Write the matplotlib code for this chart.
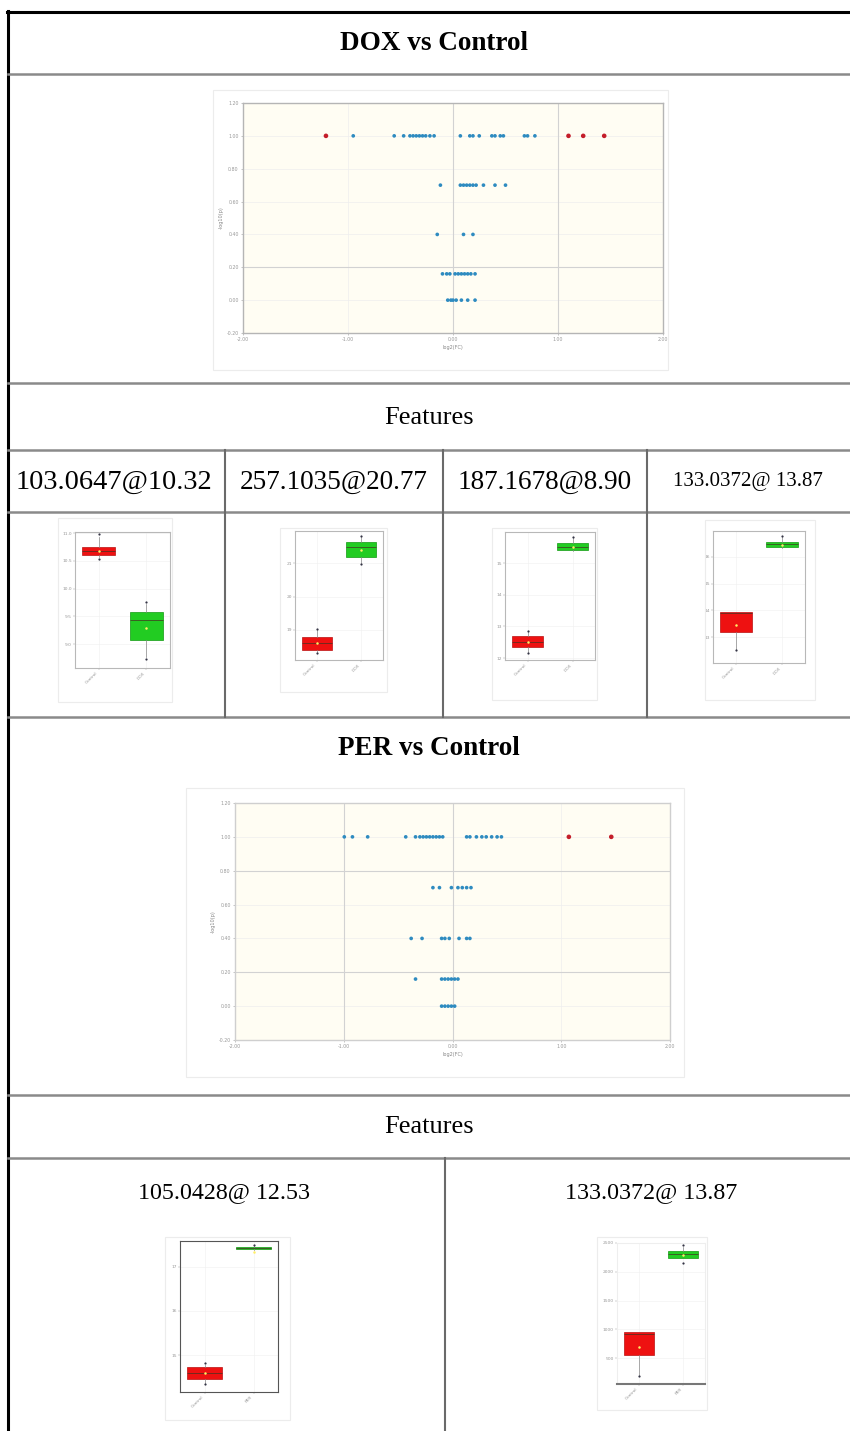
import matplotlib.pyplot as plt
from matplotlib.lines import Line2D
from matplotlib.patches import Rectangle

W, H = 850, 1431

# ---- volcano data, DOX vs Control (log2 FC, -log10 p) ----
dox_fc = [-0.95, -0.56, -0.47, -0.41, -0.38, -0.35, -0.32, -0.29, -0.26, -0.22, -0.18,
          0.07, 0.16, 0.19, 0.25, 0.37, 0.40, 0.45, 0.48, 0.68, 0.71, 0.78,
          -0.12, 0.07, 0.10, 0.13, 0.16, 0.19, 0.22, 0.29, 0.40, 0.50,
          -0.15, 0.10, 0.19,
          -0.10, -0.06, -0.03, 0.02, 0.05, 0.08, 0.11, 0.14, 0.17, 0.21,
          -0.05, -0.02, 0.00, 0.03, 0.08, 0.14, 0.21]
dox_p = [1.0] * 22 + [0.70] * 10 + [0.40] * 3 + [0.16] * 10 + [0.0] * 7
dox_sig_fc = [-1.21, 1.10, 1.24, 1.44]
dox_sig_p = [1.0, 1.0, 1.0, 1.0]
dox_vlines = [0.0, 1.0]
dox_hlines = [0.2]

# ---- volcano data, PER vs Control ----
per_fc = [-0.995, -0.92, -0.78, -0.43, -0.34, -0.30, -0.27, -0.24, -0.21, -0.18, -0.15,
          -0.12, -0.09, 0.13, 0.16, 0.22, 0.27, 0.31, 0.36, 0.41, 0.45,
          -0.18, -0.12, -0.01, 0.05, 0.09, 0.13, 0.17,
          -0.38, -0.28, -0.10, -0.07, -0.03, 0.06, 0.13, 0.16,
          -0.34, -0.10, -0.07, -0.04, -0.01, 0.02, 0.05,
          -0.10, -0.07, -0.04, -0.01, 0.02]
per_p = [1.0] * 21 + [0.70] * 7 + [0.40] * 8 + [0.16] * 7 + [0.0] * 5
per_sig_fc = [1.07, 1.46]
per_sig_p = [1.0, 1.0]
per_vlines = [-1.0, 0.0]
per_hlines = [0.2, 0.8]

fc_ticks = [-2, -1, 0, 1, 2]
p_ticks = [-0.2, 0.0, 0.2, 0.4, 0.6, 0.8, 1.0, 1.2]

# ---- box plot summaries for the selected features ----
dox_names = ["103.0647@10.32", "257.1035@20.77", "187.1678@8.90", "133.0372@ 13.87"]
dox_ctrl = [
    dict(med=10.68, q1=10.60, q3=10.75, whislo=10.57, whishi=10.93, mean=10.68, fliers=[10.99, 10.53]),
    dict(med=18.61, q1=18.40, q3=18.79, whislo=18.34, whishi=19.00, mean=18.61, fliers=[19.03, 18.31]),
    dict(med=12.51, q1=12.35, q3=12.70, whislo=12.19, whishi=12.82, mean=12.51, fliers=[12.85, 12.16]),
    dict(med=13.90, q1=13.19, q3=13.94, whislo=12.52, whishi=13.94, mean=13.45, fliers=[12.50]),
]
dox_trt = [
    dict(med=9.43, q1=9.07, q3=9.58, whislo=8.77, whishi=9.72, mean=9.29, fliers=[9.75, 8.74]),
    dict(med=21.48, q1=21.18, q3=21.63, whislo=21.00, whishi=21.78, mean=21.39, fliers=[21.81, 20.97]),
    dict(med=15.50, q1=15.41, q3=15.63, whislo=15.38, whishi=15.79, mean=15.50, fliers=[15.82]),
    dict(med=16.49, q1=16.37, q3=16.56, whislo=16.34, whishi=16.75, mean=16.45, fliers=[16.80]),
]
dox_yticks = [[9.0, 9.5, 10.0, 10.5, 11.0], [19, 20, 21], [12, 13, 14, 15], [13, 14, 15, 16]]
dox_ylims = [(8.57, 11.02), (18.10, 21.96), (11.94, 15.98), (12.03, 16.97)]

per_names = ["105.0428@ 12.53", "133.0372@ 13.87"]
per_ctrl = [
    dict(med=14.59, q1=14.45, q3=14.73, whislo=14.36, whishi=14.77, mean=14.59, fliers=[14.82, 14.34]),
    dict(med=917, q1=552, q3=952, whislo=204, whishi=952, mean=691, fliers=[183]),
]
per_trt = [
    dict(med=17.43, q1=17.40, q3=17.46, whislo=17.38, whishi=17.48, mean=17.33, fliers=[17.50]),
    dict(med=2309, q1=2239, q3=2361, whislo=2239, whishi=2430, mean=2291, fliers=[2467, 2152]),
]
per_yticks = [[15, 16, 17], [500, 1000, 1500, 2000, 2500]]
per_ylims = [(14.16, 17.59), (48, 2500)]

groups_dox = ["Control", "DOX"]
groups_per = ["Control", "PER"]

fig = plt.figure(figsize=(8.5, 14.31), dpi=100)
plt.rcParams['font.family'] = ['DejaVu Sans']
serif = 'Liberation Serif'


def fx(x):
    return x / W


def fy(y):
    return 1 - y / H


def hline(y, x0, x1, color='#8a8a8a', lw=1.8):
    fig.add_artist(Line2D([fx(x0), fx(x1)], [fy(y), fy(y)], transform=fig.transFigure, color=color, lw=lw))


def vline(x, y0, y1, color='#6a6a6a', lw=1.5):
    fig.add_artist(Line2D([fx(x), fx(x)], [fy(y0), fy(y1)], transform=fig.transFigure, color=color, lw=lw))


def px_axes(x0, y0, x1, y1):
    return fig.add_axes([fx(x0), fy(y1), fx(x1 - x0), (y1 - y0) / H])


def frame(x0, y0, x1, y1):
    fig.add_artist(Rectangle((fx(x0), fy(y1)), fx(x1 - x0), (y1 - y0) / H, transform=fig.transFigure,
                             fill=False, edgecolor='#ececec', lw=0.8))


def volcano(ax, fc, p, sig_fc, sig_p, vl, hl, spine_col):
    ax.set_facecolor('#fffdf3')
    for v in fc_ticks:
        ax.axvline(v, color='#eeeeee', lw=0.5, zorder=0)
    for v in p_ticks:
        ax.axhline(v, color='#eeeeee', lw=0.5, zorder=0)
    for v in vl:
        ax.axvline(v, color='#d2d2d2', lw=0.8, zorder=0)
    for v in hl:
        ax.axhline(v, color='#d2d2d2', lw=0.8, zorder=0)
    ax.scatter(fc, p, s=7, c='#2e8bc0', edgecolors='none', zorder=3)
    ax.scatter(sig_fc, sig_p, s=11, c='#c41e2a', edgecolors='none', zorder=3)
    ax.set_xlim(-2, 2)
    ax.set_ylim(-0.2, 1.2)
    ax.set_xticks(fc_ticks)
    ax.set_xticklabels(["%.2f" % v for v in fc_ticks])
    ax.set_yticks(p_ticks)
    ax.set_yticklabels(["%.2f" % v for v in p_ticks])
    ax.tick_params(labelsize=3.4, colors='#999999', length=1.5, width=0.4, pad=1.5)
    ax.set_xlabel("log2(FC)", fontsize=3.6, color='#888888', labelpad=2)
    ax.set_ylabel("-log10(p)", fontsize=3.6, color='#888888', labelpad=2)
    for s in ax.spines.values():
        s.set_color(spine_col)
        s.set_linewidth(1.0)


def boxes(ax, ctrl, trt, yt, yl, names):
    stats = [dict(ctrl), dict(trt)]
    bp = ax.bxp(stats, positions=[1, 2], widths=0.7, patch_artist=True, showmeans=True,
                meanprops=dict(marker='o', markersize=1.8, markerfacecolor='#ffee66', markeredgecolor='none'),
                medianprops=dict(color='#443322', lw=0.5),
                whiskerprops=dict(color='#888888', lw=0.5),
                capprops=dict(color='#888888', lw=0.0),
                flierprops=dict(marker='o', markersize=1.6, markerfacecolor='#333344', markeredgecolor='none'))
    bp['boxes'][0].set(facecolor='#ee1111', edgecolor='#bb1111', lw=0.5)
    bp['boxes'][1].set(facecolor='#22cc22', edgecolor='#119911', lw=0.5)
    ax.set_xlim(0.5, 2.5)
    ax.set_ylim(*yl)
    ax.set_yticks(yt)
    ax.set_yticklabels([str(v) for v in yt])
    ax.set_xticks([1, 2])
    ax.set_xticklabels(names, rotation=45, ha='right', fontsize=3.8)
    ax.grid(True, color='#f0f0f0', lw=0.4)
    ax.set_axisbelow(True)
    ax.tick_params(labelsize=3.2, colors='#999999', length=1.2, width=0.3, pad=1)
    for s in ax.spines.values():
        s.set_color('#b8b8b8')
        s.set_linewidth(0.8)


# ---- table borders ----
fig.add_artist(Line2D([fx(7), fx(850)], [fy(12), fy(12)], transform=fig.transFigure, color='black', lw=2.2))
vline(8, 11, 1431, color='black', lw=2.2)
for y in [74, 383, 450, 512, 717, 1095, 1158]:
    hline(y, 8, 850)
for x in [225, 443, 647]:
    vline(x, 450, 717)
vline(445, 1158, 1431)

# ---- table text ----
fig.text(fx(434), fy(44), "DOX vs Control", family=serif, weight='bold', fontsize=19.5, ha='center', va='center')
fig.text(fx(429), fy(418), "Features", family=serif, fontsize=19, ha='center', va='center')
fig.text(fx(429), fy(748), "PER vs Control", family=serif, weight='bold', fontsize=19.5, ha='center', va='center')
fig.text(fx(429), fy(1127), "Features", family=serif, fontsize=19, ha='center', va='center')

dox_name_x = [114, 334, 545, 748]
dox_name_size = [20.5, 19.6, 19.6, 15]
for nm, x, fs in zip(dox_names, dox_name_x, dox_name_size):
    fig.text(fx(x), fy(482), nm, family=serif, fontsize=fs, ha='center', va='center')
per_name_x = [224, 651]
for nm, x in zip(per_names, per_name_x):
    fig.text(fx(x), fy(1193), nm, family=serif, fontsize=17.3, ha='center', va='center')

# ---- volcano plots ----
frame(213, 90, 668, 370)
ax = px_axes(243, 103, 663, 333)
volcano(ax, dox_fc, dox_p, dox_sig_fc, dox_sig_p, dox_vlines, dox_hlines, '#b5b5b5')

frame(186, 788, 684, 1077)
ax = px_axes(235, 803, 670, 1040)
volcano(ax, per_fc, per_p, per_sig_fc, per_sig_p, per_vlines, per_hlines, '#cfcfcf')

# ---- box plots ----
dox_frames = [(58, 518, 172, 702), (280, 528, 387, 692), (492, 528, 597, 700), (705, 520, 815, 700)]
dox_axes = [(75, 532, 170, 668), (295, 531, 383, 660), (505, 532, 595, 660), (713, 531, 805, 663)]
for i in range(4):
    frame(*dox_frames[i])
    ax = px_axes(*dox_axes[i])
    boxes(ax, dox_ctrl[i], dox_trt[i], dox_yticks[i], dox_ylims[i], groups_dox)

per_frames = [(165, 1237, 290, 1420), (597, 1237, 707, 1410)]
per_axes = [(180, 1241, 278, 1392), (617, 1243, 705, 1384)]
for i in range(2):
    frame(*per_frames[i])
    ax = px_axes(*per_axes[i])
    boxes(ax, per_ctrl[i], per_trt[i], per_yticks[i], per_ylims[i], groups_per)
    if i == 0:
        for s in ax.spines.values():
            s.set_color('#555555')
    else:
        ax.spines['bottom'].set_color('#777777')
        ax.spines['bottom'].set_linewidth(1.5)
        for k in ['left', 'top', 'right']:
            ax.spines[k].set_color('#eeeeee')

plt.savefig("out.png", dpi=100)
